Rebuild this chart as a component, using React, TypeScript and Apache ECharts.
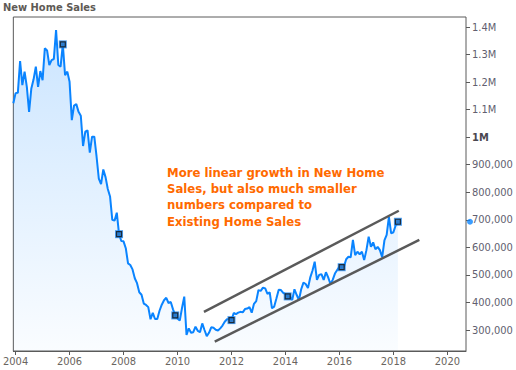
import React, { useEffect, useRef } from "react";
import * as echarts from "echarts";

// Monthly new home sales (thousands, SAAR), Dec 2003 .. Mar 2018
const START_YEAR = 2003;
const START_MONTH = 12;
const newHomeSales = [
  1123, 1160, 1161, 1276, 1189, 1238, 1183, 1092, 1177, 1210,
  1256, 1183, 1240, 1207, 1323, 1315, 1262, 1280, 1284, 1389,
  1262, 1256, 1337, 1225, 1238, 1201, 1062, 1115, 1120, 1092,
  1078, 968, 1020, 1025, 944, 1002, 1002, 930, 850, 830,
  883, 855, 812, 785, 700, 697, 726, 648, 623, 622,
  597, 542, 536, 520, 488, 470, 437, 428, 396, 391,
  383, 339, 362, 340, 340, 370, 392, 408, 417, 398,
  402, 375, 353, 342, 334, 380, 421, 282, 306, 290,
  292, 312, 297, 292, 324, 300, 278, 290, 310, 308,
  301, 298, 306, 316, 330, 339, 339, 336, 362, 358,
  363, 366, 364, 376, 378, 383, 363, 395, 405, 445,
  442, 454, 451, 431, 437, 379, 385, 415, 446, 445,
  435, 430, 422, 421, 409, 448, 427, 409, 448, 472,
  467, 452, 490, 515, 548, 482, 500, 503, 482, 510,
  491, 467, 482, 505, 518, 530, 528, 530, 557, 566,
  564, 627, 572, 584, 575, 584, 554, 590, 639, 602,
  618, 593, 602, 590, 564, 625, 645, 711, 651, 655,
  680, 693,
];
const markerMonths = ["2005-10", "2007-11", "2009-12", "2012-01", "2014-02", "2016-02", "2018-03"];
// trend channel end points: [decimal year, thousands]
const upperChannel = [[2010.98, 366], [2018.2, 733]];
const lowerChannel = [[2011.38, 258], [2018.96, 627]];
const xTickYears = [2004, 2006, 2008, 2010, 2012, 2014, 2016, 2018, 2020];
const yTickValues = [300000, 400000, 500000, 600000, 700000, 800000, 900000, 1000000, 1100000, 1200000, 1300000, 1400000];
const TITLE = "New Home Sales";
const NOTE_LINES = [
  "More linear growth in New Home",
  "Sales, but also much smaller",
  "numbers compared to",
  "Existing Home Sales",
];

const X_MIN = START_YEAR + (START_MONTH - 1) / 12;
const X_MAX = 2020.69;
const Y_MIN = 223800;
const Y_MAX = 1436400;

const FONT = "'DejaVu Sans Condensed', 'DejaVu Sans', sans-serif";
const LINE_BLUE = "#0a84ff";

const monthToYear = (i: number) => X_MIN + i / 12;
const monthIndex = (s: string) => {
  const [y, m] = s.split("-").map(Number);
  return (y - START_YEAR) * 12 + (m - START_MONTH);
};

const fmtY = (v: number) => {
  if (v >= 1000000) {
    const s = String(Math.round(v / 100000) / 10) + "M";
    return v === 1000000 ? "{b|" + s + "}" : s;
  }
  return v.toString().replace(/\B(?=(\d{3})+(?!\d))/g, ",");
};

export default function App() {
  const ref = useRef<HTMLDivElement>(null);
  useEffect(() => {
    if (!ref.current) return;
    const chart = echarts.init(ref.current, undefined, { renderer: "svg" });
    const lineData = newHomeSales.map((v, i) => [monthToYear(i), v * 1000]);
    const markerData = markerMonths.map((s) => {
      const i = monthIndex(s);
      return [monthToYear(i), newHomeSales[i] * 1000];
    });
    const last = newHomeSales[newHomeSales.length - 1] * 1000;
    chart.setOption({
      animation: false,
      title: {
        text: TITLE,
        left: 3,
        top: 2,
        padding: 0,
        textStyle: { fontFamily: FONT, fontSize: 11, fontWeight: "bold", color: "#5e5a55" },
      },
      grid: {
        left: 3,
        right: 50,
        top: 17,
        bottom: 19,
        show: true,
        borderColor: "#5a5a5a",
        borderWidth: 1,
        containLabel: false,
      },
      xAxis: {
        type: "value",
        min: X_MIN,
        max: X_MAX,
        splitLine: { show: false },
        axisLine: { show: true, lineStyle: { color: "#5a5a5a" } },
        axisTick: { show: true, length: 4, customValues: xTickYears, lineStyle: { color: "#5a5a5a" } },
        axisLabel: {
          customValues: xTickYears,
          formatter: (v: number) => String(Math.round(v)),
          color: "#6a6560",
          fontFamily: FONT,
          fontSize: 11,
          margin: 5,
        },
      },
      yAxis: {
        type: "value",
        position: "right",
        min: Y_MIN,
        max: Y_MAX,
        splitLine: { show: false },
        axisLine: { show: false },
        axisTick: { show: true, length: 4, customValues: yTickValues, lineStyle: { color: "#5a5a5a" } },
        axisLabel: {
          customValues: yTickValues,
          formatter: fmtY,
          color: "#625f70",
          fontFamily: FONT,
          fontSize: 11,
          margin: 6,
          rich: { b: { fontWeight: "bold", color: "#4a4750", fontFamily: FONT, fontSize: 11 } },
        },
      },
      series: [
        {
          type: "line",
          data: lineData,
          showSymbol: false,
          symbol: "none",
          lineStyle: { color: LINE_BLUE, width: 2 },
          areaStyle: {
            color: new echarts.graphic.LinearGradient(0, 0, 0, 1, [
              { offset: 0, color: "rgba(10,132,255,0.3)" },
              { offset: 1, color: "rgba(10,132,255,0.03)" },
            ]),
          },
          z: 2,
        },
        {
          type: "line",
          data: upperChannel.map(([x, v]) => [x, v * 1000]),
          symbol: "none",
          lineStyle: { color: "#5a5a5a", width: 2.5 },
          z: 3,
        },
        {
          type: "line",
          data: lowerChannel.map(([x, v]) => [x, v * 1000]),
          symbol: "none",
          lineStyle: { color: "#5a5a5a", width: 2.5 },
          z: 3,
        },
        {
          type: "scatter",
          data: markerData,
          symbol: "rect",
          symbolSize: 8,
          itemStyle: { color: "#1f86ee" },
          z: 4,
        },
        {
          type: "scatter",
          data: markerData,
          symbol: "rect",
          symbolSize: 5,
          itemStyle: { color: "#2a78c8", borderColor: "#111", borderWidth: 1.2 },
          z: 5,
        },
        {
          type: "scatter",
          data: [[X_MAX, last]],
          symbol: "circle",
          symbolSize: 6,
          symbolOffset: [4, 0],
          clip: false,
          itemStyle: { color: LINE_BLUE },
          z: 6,
        },
      ],
      graphic: [
        {
          type: "text",
          left: 167,
          top: 164,
          style: {
            text: NOTE_LINES.join("\n"),
            fontFamily: FONT,
            fontSize: 13,
            fontWeight: "bold",
            lineHeight: 16.3,
            fill: "#ff6a00",
          },
          z: 10,
        },
      ],
    });
    return () => chart.dispose();
  }, []);
  return (
    <div
      ref={ref}
      style={{ position: "absolute", left: 0, top: 0, width: 516, height: 370, background: "#fff" }}
    />
  );
}
